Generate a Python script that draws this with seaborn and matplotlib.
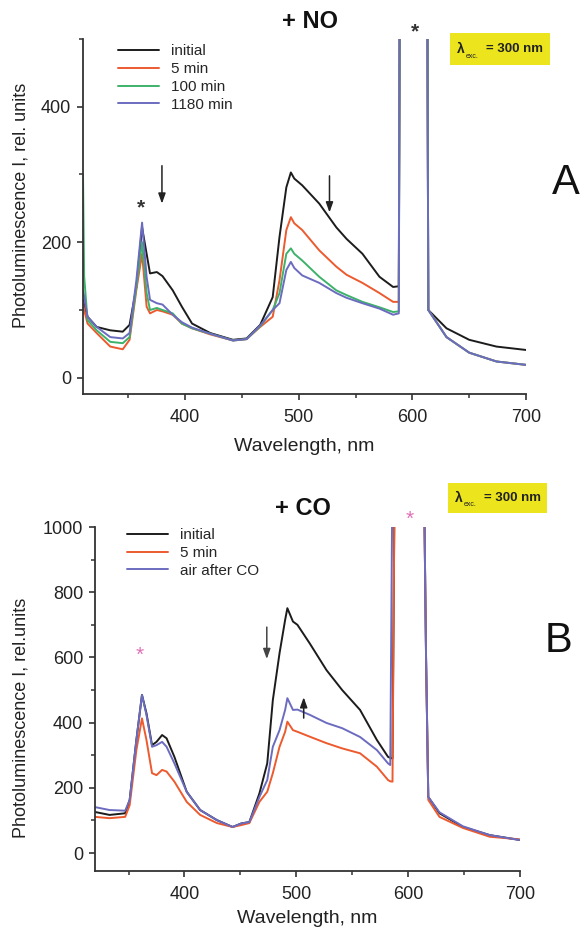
import numpy as np
import pandas as pd
import matplotlib
matplotlib.use("Agg")
import matplotlib.pyplot as plt
import seaborn as sns
from matplotlib.patches import Rectangle
from matplotlib.ticker import MultipleLocator

# ---------------- data: panel A (+ NO) ----------------
wl_a = [310, 311, 314, 322, 334, 345, 351, 357, 362, 366, 369, 375, 380, 389, 397,
        406, 422, 442, 454, 466, 477, 483, 489, 493, 496, 503, 518, 533, 542, 556,
        571, 583, 588, 590, 612, 614, 630, 650, 674, 700]
a_initial = [115, 108, 90, 75, 70, 68, 78, 134, 222, 183, 154, 156, 150, 129, 105,
             80, 66, 56, 58, 78, 119, 208, 281, 303, 294, 284, 257, 222, 205, 183,
             149, 134, 135, 1200, 1200, 100, 73, 56, 46, 41]
a_5min = [110, 100, 80, 66, 46, 42, 56, 130, 183, 105, 95, 100, 98, 93, 80,
          73, 64, 55, 57, 75, 90, 144, 218, 237, 228, 218, 188, 164, 152, 140,
          125, 112, 112, 1200, 1200, 100, 60, 37, 24, 19]
a_100min = [300, 150, 85, 70, 53, 51, 60, 135, 200, 125, 100, 103, 100, 95, 80,
            73, 65, 55, 57, 76, 100, 125, 183, 191, 183, 173, 149, 129, 122, 112,
            104, 97, 98, 1200, 1200, 100, 60, 37, 24, 19]
a_1180min = [129, 120, 90, 75, 60, 58, 66, 144, 229, 149, 115, 110, 108, 93, 82,
             74, 65, 55, 57, 77, 100, 110, 159, 171, 162, 151, 140, 125, 118, 110,
             102, 93, 95, 1200, 1200, 100, 60, 37, 24, 19]
labels_a = ["initial", "5 min", "100 min", "1180 min"]

# ---------------- data: panel B (+ CO) ----------------
wl_b = [320, 333, 347, 351, 357, 362, 366, 371, 375, 380, 384, 391, 402, 414, 429,
        443, 451, 458, 467, 474, 479, 485, 490, 492, 497, 501, 512, 527, 541, 557,
        572, 582, 584, 586, 588, 614, 616, 618, 628, 649, 673, 700]
b_initial = [126, 117, 122, 163, 347, 485, 429, 331, 341, 362, 352, 295, 188, 132, 101,
             80, 91, 95, 183, 275, 469, 613, 715, 751, 710, 700, 643, 561, 500, 439,
             347, 295, 292, 290, 1200, 1200, 600, 172, 122, 80, 55, 40]
b_5min = [111, 107, 111, 147, 316, 413, 347, 245, 239, 255, 250, 219, 157, 117, 92,
          80, 86, 92, 157, 188, 245, 326, 372, 403, 377, 372, 357, 337, 321, 306,
          265, 224, 220, 219, 1200, 1200, 600, 163, 111, 77, 50, 42]
b_air = [141, 132, 130, 163, 347, 485, 424, 326, 331, 341, 326, 275, 188, 132, 101,
         80, 91, 95, 172, 224, 326, 377, 439, 475, 439, 440, 424, 399, 383, 356,
         316, 275, 270, 1200, 1200, 1200, 600, 172, 125, 82, 55, 40]
labels_b = ["initial", "5 min", "air after CO"]

# ---------------- style ----------------
sns.set_theme(style="ticks")
plt.rcParams["font.family"] = ["Liberation Sans", "DejaVu Sans"]

c_black = "#1c1c1c"
c_red = "#ec5a2e"
c_green = "#3db26a"
c_blue = "#6b6cc0"
c_spine = "#333333"

W, H = 584, 930
fig = plt.figure(figsize=(W / 100, H / 100), dpi=100)


def px_axes(x0, y0, x1, y1):
    return fig.add_axes([x0 / W, 1 - y1 / H, (x1 - x0) / W, (y1 - y0) / H])


axA = px_axes(83, 39, 526, 394)
axB = px_axes(95, 527, 520, 871)

for wl, vals, lab, col in zip([wl_a] * 4,
                              [a_initial, a_5min, a_100min, a_1180min],
                              labels_a, [c_black, c_red, c_green, c_blue]):
    sns.lineplot(x=wl, y=vals, ax=axA, color=col, lw=1.4, label=lab)

for wl, vals, lab, col in zip([wl_b] * 3,
                              [b_initial, b_5min, b_air],
                              labels_b, [c_black, c_red, c_blue]):
    sns.lineplot(x=wl, y=vals, ax=axB, color=col, lw=1.4, label=lab)

axA.set_xlim(310, 700)
axA.set_ylim(-24, 500)
axB.set_xlim(320, 700)
axB.set_ylim(-55, 1000)

for ax, ymaj in ((axA, 200), (axB, 200)):
    sns.despine(ax=ax)
    for s in ("left", "bottom"):
        ax.spines[s].set_color(c_spine)
        ax.spines[s].set_linewidth(1.3)
    ax.xaxis.set_major_locator(MultipleLocator(100))
    ax.xaxis.set_minor_locator(MultipleLocator(50))
    ax.yaxis.set_major_locator(MultipleLocator(ymaj))
    ax.yaxis.set_minor_locator(MultipleLocator(100))
    ax.tick_params(which="major", length=4.5, width=1.2, color=c_spine,
                   labelsize=13, labelcolor="#222222")
    ax.tick_params(which="minor", length=3, width=1.1, color=c_spine)
    ax.tick_params(axis="x", which="major", pad=6)
    ax.tick_params(axis="y", which="major", pad=4)
    ax.set_xlabel("Wavelength, nm", fontsize=14, color="#222222")

axA.set_ylabel("Photoluminescence I, rel. units", fontsize=13, color="#222222")
axB.set_ylabel("Photoluminescence I, rel.units", fontsize=13, color="#222222")
axA.yaxis.set_label_coords(-0.12, 0.53)
axB.yaxis.set_label_coords(-0.153, 0.445)
axA.xaxis.set_label_coords(0.5, -0.124)
axB.xaxis.set_label_coords(0.5, -0.113)

# legends
for ax, anchor in ((axA, (0.079, 0.985)), (axB, (0.075, 0.997))):
    ax.legend(loc="upper left", bbox_to_anchor=anchor, frameon=False,
              fontsize=11, handlelength=2.7, handletextpad=0.8,
              borderpad=0, borderaxespad=0, labelspacing=0.25)

# titles and panel letters
fig.text(310 / W, 1 - 22 / H, "+ NO", fontsize=17, fontweight="bold",
         ha="center", va="center", color="#111111")
fig.text(303 / W, 1 - 508 / H, "+ CO", fontsize=17, fontweight="bold",
         ha="center", va="center", color="#111111")
fig.text(566 / W, 1 - 183 / H, "A", fontsize=30, ha="center", va="center",
         color="#111111")
fig.text(558 / W, 1 - 641 / H, "B", fontsize=30, ha="center", va="center",
         color="#111111")

# excitation boxes
for (x0, y0, x1, y1) in ((450, 33, 550, 65), (448, 483, 547, 513)):
    fig.add_artist(Rectangle((x0 / W, 1 - y1 / H), (x1 - x0) / W, (y1 - y0) / H,
                             transform=fig.transFigure, facecolor="#ece51e",
                             edgecolor="none", zorder=1))
    yc = (y0 + y1) / 2
    fig.text((x0 + 7) / W, 1 - yc / H, "λ", fontsize=10, fontweight="bold",
             ha="left", va="center", color="#222222", zorder=2)
    fig.text((x0 + 16) / W, 1 - (yc + 7) / H, "exc.", fontsize=5,
             ha="left", va="center", color="#222222", zorder=2)
    fig.text((x0 + 36) / W, 1 - yc / H, "= 300 nm", fontsize=9.5,
             fontweight="bold", ha="left", va="center", color="#222222",
             zorder=2)

# asterisks
axA.text(361, 250, "*", fontsize=15, fontweight="bold", ha="center",
         va="center", color="#333333", clip_on=False)
axA.text(602, 510, "*", fontsize=15, fontweight="bold", ha="center",
         va="center", color="#333333", clip_on=False)
axB.text(360, 607, "*", fontsize=15, ha="center", va="center",
         color="#e070b8", clip_on=False)
axB.text(601, 1024, "*", fontsize=15, ha="center", va="center",
         color="#e070b8", clip_on=False)

# arrows
arrow_kw = dict(arrowstyle="-|>,head_length=0.5,head_width=0.18", lw=1.1,
                color="#222222", shrinkA=0, shrinkB=0)
axA.annotate("", xy=(379.5, 257), xytext=(379.5, 313), arrowprops=arrow_kw)
axA.annotate("", xy=(527, 244), xytext=(527, 298), arrowprops=arrow_kw)
axB.annotate("", xy=(473.6, 595), xytext=(473.6, 693),
             arrowprops=dict(arrow_kw, color="#444444"))
axB.annotate("", xy=(506.6, 478), xytext=(506.6, 414), arrowprops=arrow_kw)

fig.savefig("out.png", dpi=100)
